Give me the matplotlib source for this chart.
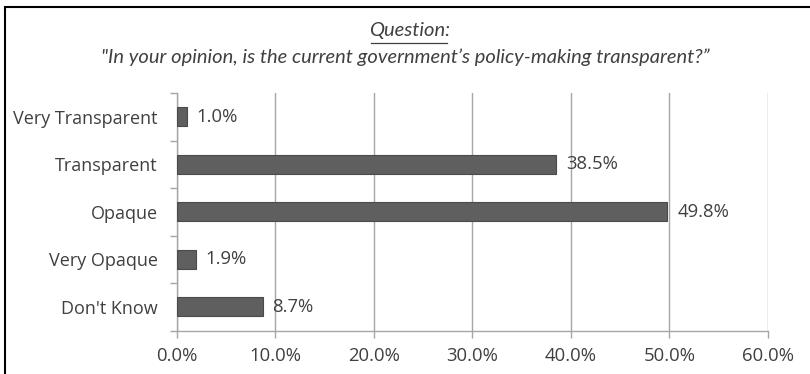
import matplotlib
matplotlib.use("Agg")
import matplotlib.pyplot as plt
from matplotlib.patches import Rectangle
from matplotlib.ticker import FixedLocator, FuncFormatter

# ── Survey results ────────────────────────────────────────────────
categories = ["Very Transparent", "Transparent", "Opaque", "Very Opaque", "Don't Know"]
shares = [1.0, 38.5, 49.8, 1.9, 8.7]
x_ticks = [0, 10, 20, 30, 40, 50, 60]

TEXT = "#404040"
BAR = "#5f5f5f"
GRID = "#a6a6a6"

plt.rcParams["font.family"] = ["Open Sans", "DejaVu Sans"]

fig = plt.figure(figsize=(8.1, 3.74), dpi=100)
ax = fig.add_axes([0.2185, 0.1163, 0.7295, 0.635])

ypos = list(range(len(categories)))
ax.barh(ypos, shares, height=0.4, color=BAR, edgecolor="#4a4a4a", linewidth=0.8, zorder=3)

for y, v in zip(ypos, shares):
    ax.annotate(f"{v:.1f}%", (v, y), xytext=(7, 0), textcoords="offset points",
                va="center", ha="left", fontsize=13.3, color=TEXT, zorder=4)

ax.set_xlim(0, 60)
ax.set_ylim(len(categories) - 0.5, -0.5)
ax.set_xticks(x_ticks)
ax.xaxis.set_major_formatter(FuncFormatter(lambda v, _: f"{v:.1f}%"))
ax.set_yticks(ypos)
ax.set_yticklabels(categories)
ax.yaxis.set_minor_locator(FixedLocator([i - 0.5 for i in range(len(categories) + 1)]))

ax.tick_params(axis="y", which="major", length=0, pad=14, labelsize=13, labelcolor=TEXT)
ax.tick_params(axis="y", which="minor", length=5, color=GRID, width=1)
ax.tick_params(axis="x", length=5, color=GRID, width=1, pad=7, labelsize=13.3, labelcolor=TEXT)

ax.grid(axis="x", color=GRID, linewidth=1, zorder=0)
for side in ("top", "right"):
    ax.spines[side].set_visible(False)
for side in ("left", "bottom"):
    ax.spines[side].set_color(GRID)
    ax.spines[side].set_linewidth(1)

# Title block
title_font = ["Lato", "DejaVu Sans"]
fig.text(0.506, 0.918, "Question:", ha="center", va="center", fontsize=14.5,
         style="italic", color=TEXT, family=title_font)
fig.add_artist(plt.Line2D([0.458, 0.552], [0.884, 0.884], color=TEXT, linewidth=0.9))
fig.text(0.5, 0.847, "\"In your opinion, is the current government\u2019s policy-making transparent?\u201d",
         ha="center", va="center", fontsize=14.5, style="italic", color=TEXT, family=title_font)

# Outer frame
fig.add_artist(Rectangle((5 / 810, -0.05), 1.0, 1 - 7 / 374 + 0.05, transform=fig.transFigure,
                         fill=False, edgecolor="black", linewidth=1.5, clip_on=False))

fig.savefig("out.png", dpi=100)
